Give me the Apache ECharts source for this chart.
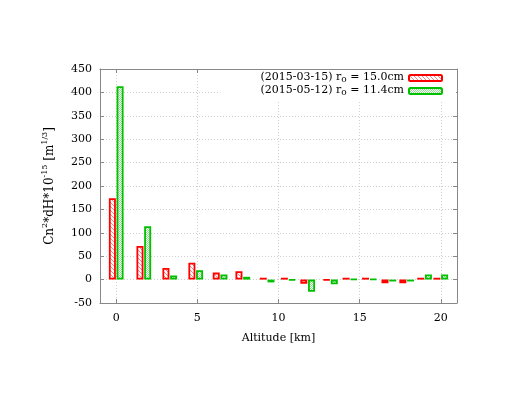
<!DOCTYPE html>
<html><head><meta charset="utf-8">
<script src="https://cdn.jsdelivr.net/npm/echarts@6/dist/echarts.min.js"></script>
<style>html,body{margin:0;padding:0;background:#fff}#c{width:518px;height:400px}</style>
</head><body><div id="c"></div>
<script>
// ---- data ----
const altitudes = [0, 1.7, 3.3, 4.9, 6.4, 7.8, 9.3, 10.6, 11.8, 13.2, 14.4, 15.6, 16.8, 17.9, 19.0, 20.0];
const values0315 = [174, 72, 25, 36, 15, 18, 4, 4, -9, -1, 4, 4, -8, -8, 4, 4];
const values0512 = [413, 114, 9, 20, 11, 6, -6, -1, -26, -10, 1, 1, -4, -4, 11, 11];
const seriesDates = ['(2015-03-15)', '(2015-05-12)'];
const seriesR0 = ['15.0cm', '11.4cm'];
const xTickLabels = [0, 5, 10, 15, 20];
const yMin = -50, yMax = 450, yStep = 50;
const xMin = -1, xMax = 21;

const FONT = 'DejaVu Serif';
const seriesNames = seriesDates.map((d, i) => d + ' ro = ' + seriesR0[i]);
function pairs(vals) { return altitudes.map((a, i) => [a, vals[i]]); }

// fill textures
function hatchPattern() {
  const c = document.createElement('canvas'); c.width = 4; c.height = 4;
  const g = c.getContext('2d');
  g.fillStyle = '#ffffff'; g.fillRect(0, 0, 4, 4);
  g.fillStyle = '#ff8484';
  for (let i = 0; i < 4; i++) g.fillRect(i, i, 1, 1);
  return {image: c, repeat: 'repeat'};
}
function checkPattern() {
  const c = document.createElement('canvas'); c.width = 2; c.height = 2;
  const g = c.getContext('2d');
  g.fillStyle = '#ffffff'; g.fillRect(0, 0, 2, 2);
  g.fillStyle = '#8edc8e';
  g.fillRect(0, 0, 1, 1); g.fillRect(1, 1, 1, 1);
  return {image: c, repeat: 'repeat'};
}

const chart = echarts.init(document.getElementById('c'), null, {renderer: 'canvas'});
const axisColor = '#888';
const gridLine = {show: true, lineStyle: {color: '#cfcfcf', type: [1, 2], width: 1}};

chart.setOption({
  animation: false,
  backgroundColor: '#fff',
  grid: {left: 100, right: 61, top: 69, bottom: 97},
  legend: {
    orient: 'vertical', align: 'right', right: 62, top: 70,
    padding: [2, 13, 3, 40], backgroundColor: '#fff',
    itemWidth: 33, itemHeight: 6, itemGap: 1,
    data: seriesNames,
    formatter: function (name) {
      const i = seriesNames.indexOf(name);
      return '{a|' + seriesDates[i] + ' r}{s|o}{a| = ' + seriesR0[i] + '}';
    },
    textStyle: {
      fontFamily: FONT, fontSize: 11, color: '#000',
      rich: {
        a: {fontFamily: FONT, fontSize: 11, color: '#000', lineHeight: 12, verticalAlign: 'top'},
        s: {fontFamily: FONT, fontSize: 9, color: '#000', lineHeight: 8, verticalAlign: 'bottom'}
      }
    }
  },
  xAxis: [{
    type: 'value', min: xMin, max: xMax, position: 'bottom',
    name: 'Altitude [km]', nameLocation: 'middle', nameGap: 30,
    nameTextStyle: {fontFamily: FONT, fontSize: 11, color: '#000'},
    axisLine: {show: true, onZero: false, lineStyle: {color: axisColor}},
    axisTick: {show: true, inside: true, length: 4, lineStyle: {color: axisColor}},
    axisLabel: {fontFamily: FONT, fontSize: 11, color: '#000', margin: 10,
      showMinLabel: false, showMaxLabel: false,
      formatter: v => (xTickLabels.indexOf(v) >= 0 ? String(v) : '')},
    splitLine: gridLine
  }, {
    type: 'value', min: xMin, max: xMax, position: 'top',
    axisLine: {show: true, onZero: false, lineStyle: {color: axisColor}},
    axisTick: {show: true, inside: true, length: 4, lineStyle: {color: axisColor}},
    axisLabel: {show: false}, splitLine: {show: false}
  }],
  yAxis: [{
    type: 'value', min: yMin, max: yMax, interval: yStep, position: 'left',
    name: '{a|Cn}{sup|2}{a|*dH*10}{sup|-15}{a| [m}{sup|1/3}{a|]}',
    nameLocation: 'middle', nameRotate: 90, nameGap: 44,
    nameTextStyle: {
      fontFamily: FONT, fontSize: 12, color: '#000',
      rich: {
        a: {fontFamily: FONT, fontSize: 12, color: '#000', lineHeight: 15, verticalAlign: 'bottom'},
        sup: {fontFamily: FONT, fontSize: 8, color: '#000', lineHeight: 8, verticalAlign: 'top'}
      }
    },
    axisLine: {show: true, onZero: false, lineStyle: {color: axisColor}},
    axisTick: {show: true, inside: true, length: 4, lineStyle: {color: axisColor}},
    axisLabel: {fontFamily: FONT, fontSize: 11, color: '#000', margin: 8},
    splitLine: gridLine
  }, {
    type: 'value', min: yMin, max: yMax, interval: yStep, position: 'right',
    axisLine: {show: true, onZero: false, lineStyle: {color: axisColor}},
    axisTick: {show: true, inside: true, length: 4, lineStyle: {color: axisColor}},
    axisLabel: {show: false}, splitLine: {show: false}
  }],
  series: [{
    name: seriesNames[0], type: 'bar', xAxisIndex: 0, yAxisIndex: 0,
    data: pairs(values0315), barWidth: 7, barGap: '10%',
    itemStyle: {color: hatchPattern(), borderColor: '#ff0000', borderWidth: 1.8}
  }, {
    name: seriesNames[1], type: 'bar', xAxisIndex: 0, yAxisIndex: 0,
    data: pairs(values0512), barWidth: 7, barGap: '10%',
    itemStyle: {color: checkPattern(), borderColor: '#00c000', borderWidth: 1.8}
  }]
});
</script></body></html>
